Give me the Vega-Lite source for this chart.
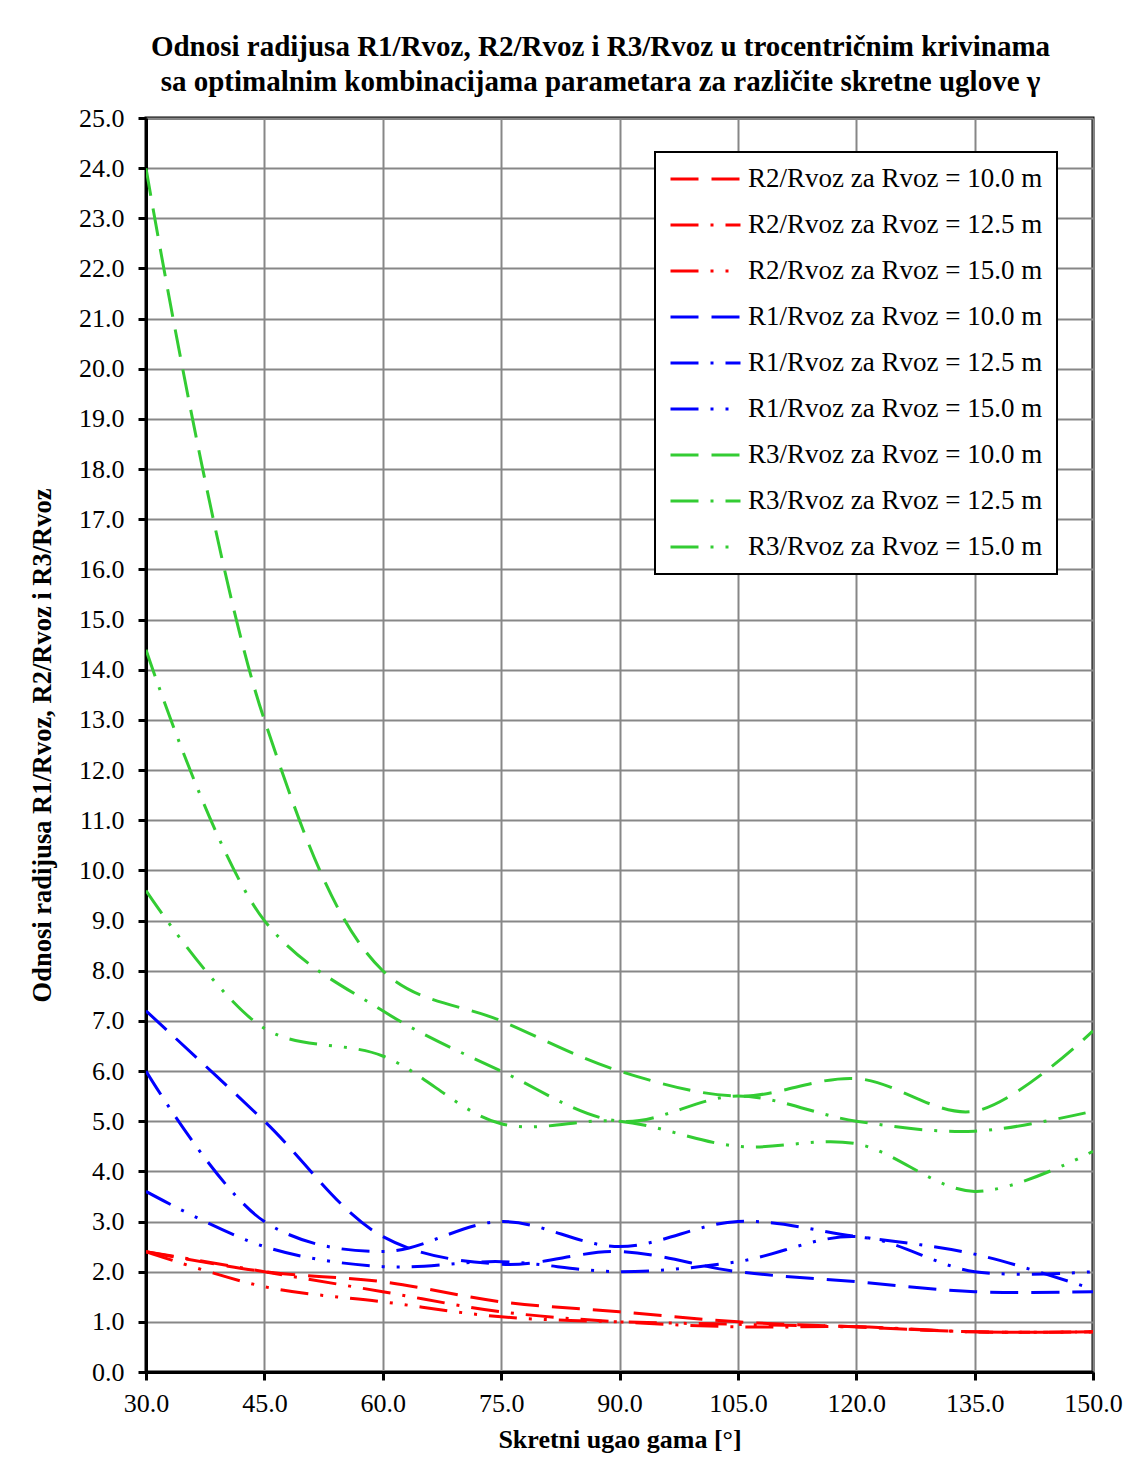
{
  "$schema": "https://vega.github.io/schema/vega-lite/v6.json",
  "width": 947,
  "height": 1254,
  "autosize": "none",
  "padding": {"left": 146, "top": 118, "right": 34, "bottom": 92},
  "background": "white",
  "config": {
    "font": "Liberation Serif",
    "view": {"stroke": "black", "strokeWidth": 3},
    "legend": {"strokeWidth": 2}
  },
  "title": {
    "text": ["Odnosi radijusa R1/Rvoz, R2/Rvoz i R3/Rvoz u trocentričnim krivinama", "sa optimalnim kombinacijama parametara za različite skretne uglove γ"],
    "font": "Liberation Serif",
    "fontSize": 29,
    "fontWeight": "bold",
    "lineHeight": 35,
    "color": "black",
    "anchor": "middle",
    "frame": "group",
    "dx": -19,
    "offset": 8
  },
  "data": {
    "values": [
      {"s": "R2/Rvoz za Rvoz = 10.0 m", "g": 30, "v": 2.4},
      {"s": "R2/Rvoz za Rvoz = 10.0 m", "g": 45, "v": 2.0},
      {"s": "R2/Rvoz za Rvoz = 10.0 m", "g": 60, "v": 1.8},
      {"s": "R2/Rvoz za Rvoz = 10.0 m", "g": 75, "v": 1.4},
      {"s": "R2/Rvoz za Rvoz = 10.0 m", "g": 90, "v": 1.2},
      {"s": "R2/Rvoz za Rvoz = 10.0 m", "g": 105, "v": 1.0},
      {"s": "R2/Rvoz za Rvoz = 10.0 m", "g": 120, "v": 0.9},
      {"s": "R2/Rvoz za Rvoz = 10.0 m", "g": 135, "v": 0.8},
      {"s": "R2/Rvoz za Rvoz = 10.0 m", "g": 150, "v": 0.8},
      {"s": "R2/Rvoz za Rvoz = 12.5 m", "g": 30, "v": 2.4},
      {"s": "R2/Rvoz za Rvoz = 12.5 m", "g": 45, "v": 2.0},
      {"s": "R2/Rvoz za Rvoz = 12.5 m", "g": 60, "v": 1.6},
      {"s": "R2/Rvoz za Rvoz = 12.5 m", "g": 75, "v": 1.2},
      {"s": "R2/Rvoz za Rvoz = 12.5 m", "g": 90, "v": 1.0},
      {"s": "R2/Rvoz za Rvoz = 12.5 m", "g": 105, "v": 0.9},
      {"s": "R2/Rvoz za Rvoz = 12.5 m", "g": 120, "v": 0.9},
      {"s": "R2/Rvoz za Rvoz = 12.5 m", "g": 135, "v": 0.8},
      {"s": "R2/Rvoz za Rvoz = 12.5 m", "g": 150, "v": 0.8},
      {"s": "R2/Rvoz za Rvoz = 15.0 m", "g": 30, "v": 2.4},
      {"s": "R2/Rvoz za Rvoz = 15.0 m", "g": 45, "v": 1.7},
      {"s": "R2/Rvoz za Rvoz = 15.0 m", "g": 60, "v": 1.4},
      {"s": "R2/Rvoz za Rvoz = 15.0 m", "g": 75, "v": 1.1},
      {"s": "R2/Rvoz za Rvoz = 15.0 m", "g": 90, "v": 1.0},
      {"s": "R2/Rvoz za Rvoz = 15.0 m", "g": 105, "v": 0.95},
      {"s": "R2/Rvoz za Rvoz = 15.0 m", "g": 120, "v": 0.9},
      {"s": "R2/Rvoz za Rvoz = 15.0 m", "g": 135, "v": 0.8},
      {"s": "R2/Rvoz za Rvoz = 15.0 m", "g": 150, "v": 0.8},
      {"s": "R1/Rvoz za Rvoz = 10.0 m", "g": 30, "v": 7.2},
      {"s": "R1/Rvoz za Rvoz = 10.0 m", "g": 45, "v": 5.0},
      {"s": "R1/Rvoz za Rvoz = 10.0 m", "g": 60, "v": 2.7},
      {"s": "R1/Rvoz za Rvoz = 10.0 m", "g": 75, "v": 2.15},
      {"s": "R1/Rvoz za Rvoz = 10.0 m", "g": 90, "v": 2.4},
      {"s": "R1/Rvoz za Rvoz = 10.0 m", "g": 105, "v": 2.0},
      {"s": "R1/Rvoz za Rvoz = 10.0 m", "g": 120, "v": 1.8},
      {"s": "R1/Rvoz za Rvoz = 10.0 m", "g": 135, "v": 1.6},
      {"s": "R1/Rvoz za Rvoz = 10.0 m", "g": 150, "v": 1.6},
      {"s": "R1/Rvoz za Rvoz = 12.5 m", "g": 30, "v": 6.0},
      {"s": "R1/Rvoz za Rvoz = 12.5 m", "g": 45, "v": 3.0},
      {"s": "R1/Rvoz za Rvoz = 12.5 m", "g": 60, "v": 2.4},
      {"s": "R1/Rvoz za Rvoz = 12.5 m", "g": 75, "v": 3.0},
      {"s": "R1/Rvoz za Rvoz = 12.5 m", "g": 90, "v": 2.5},
      {"s": "R1/Rvoz za Rvoz = 12.5 m", "g": 105, "v": 3.0},
      {"s": "R1/Rvoz za Rvoz = 12.5 m", "g": 120, "v": 2.7},
      {"s": "R1/Rvoz za Rvoz = 12.5 m", "g": 135, "v": 2.35},
      {"s": "R1/Rvoz za Rvoz = 12.5 m", "g": 150, "v": 1.65},
      {"s": "R1/Rvoz za Rvoz = 15.0 m", "g": 30, "v": 3.6},
      {"s": "R1/Rvoz za Rvoz = 15.0 m", "g": 45, "v": 2.5},
      {"s": "R1/Rvoz za Rvoz = 15.0 m", "g": 60, "v": 2.1},
      {"s": "R1/Rvoz za Rvoz = 15.0 m", "g": 75, "v": 2.2},
      {"s": "R1/Rvoz za Rvoz = 15.0 m", "g": 90, "v": 2.0},
      {"s": "R1/Rvoz za Rvoz = 15.0 m", "g": 105, "v": 2.2},
      {"s": "R1/Rvoz za Rvoz = 15.0 m", "g": 120, "v": 2.7},
      {"s": "R1/Rvoz za Rvoz = 15.0 m", "g": 135, "v": 2.0},
      {"s": "R1/Rvoz za Rvoz = 15.0 m", "g": 150, "v": 2.0},
      {"s": "R3/Rvoz za Rvoz = 10.0 m", "g": 30, "v": 24.0},
      {"s": "R3/Rvoz za Rvoz = 10.0 m", "g": 45, "v": 13.0},
      {"s": "R3/Rvoz za Rvoz = 10.0 m", "g": 60, "v": 8.0},
      {"s": "R3/Rvoz za Rvoz = 10.0 m", "g": 75, "v": 7.0},
      {"s": "R3/Rvoz za Rvoz = 10.0 m", "g": 90, "v": 6.0},
      {"s": "R3/Rvoz za Rvoz = 10.0 m", "g": 105, "v": 5.5},
      {"s": "R3/Rvoz za Rvoz = 10.0 m", "g": 120, "v": 5.85},
      {"s": "R3/Rvoz za Rvoz = 10.0 m", "g": 135, "v": 5.2},
      {"s": "R3/Rvoz za Rvoz = 10.0 m", "g": 150, "v": 6.8},
      {"s": "R3/Rvoz za Rvoz = 12.5 m", "g": 30, "v": 14.4},
      {"s": "R3/Rvoz za Rvoz = 12.5 m", "g": 45, "v": 9.0},
      {"s": "R3/Rvoz za Rvoz = 12.5 m", "g": 60, "v": 7.2},
      {"s": "R3/Rvoz za Rvoz = 12.5 m", "g": 75, "v": 6.0},
      {"s": "R3/Rvoz za Rvoz = 12.5 m", "g": 90, "v": 5.0},
      {"s": "R3/Rvoz za Rvoz = 12.5 m", "g": 105, "v": 5.5},
      {"s": "R3/Rvoz za Rvoz = 12.5 m", "g": 120, "v": 5.0},
      {"s": "R3/Rvoz za Rvoz = 12.5 m", "g": 135, "v": 4.8},
      {"s": "R3/Rvoz za Rvoz = 12.5 m", "g": 150, "v": 5.2},
      {"s": "R3/Rvoz za Rvoz = 15.0 m", "g": 30, "v": 9.6},
      {"s": "R3/Rvoz za Rvoz = 15.0 m", "g": 45, "v": 6.85},
      {"s": "R3/Rvoz za Rvoz = 15.0 m", "g": 60, "v": 6.3},
      {"s": "R3/Rvoz za Rvoz = 15.0 m", "g": 75, "v": 4.95},
      {"s": "R3/Rvoz za Rvoz = 15.0 m", "g": 90, "v": 5.0},
      {"s": "R3/Rvoz za Rvoz = 15.0 m", "g": 105, "v": 4.5},
      {"s": "R3/Rvoz za Rvoz = 15.0 m", "g": 120, "v": 4.55},
      {"s": "R3/Rvoz za Rvoz = 15.0 m", "g": 135, "v": 3.6},
      {"s": "R3/Rvoz za Rvoz = 15.0 m", "g": 150, "v": 4.4}
    ]
  },
  "mark": {"type": "line", "interpolate": "catmull-rom", "strokeWidth": 3, "clip": true},
  "encoding": {
    "x": {
      "field": "g",
      "type": "quantitative",
      "scale": {"domain": [30, 150], "nice": false, "zero": false},
      "axis": {
        "title": "Skretni ugao gama [°]",
        "values": [30, 45, 60, 75, 90, 105, 120, 135, 150],
        "format": ".1f",
        "labelFont": "Liberation Serif",
        "labelFontSize": 26,
        "labelColor": "black",
        "labelPadding": 10,
        "labelFlush": false,
        "labelOverlap": false,
        "titleFont": "Liberation Serif",
        "titleFontSize": 26,
        "titleFontWeight": "bold",
        "titleColor": "black",
        "titlePadding": 10,
        "domainColor": "black",
        "domainWidth": 3,
        "tickColor": "black",
        "tickWidth": 3,
        "tickSize": 8,
        "grid": true,
        "gridColor": "#878787",
        "gridWidth": 2
      }
    },
    "y": {
      "field": "v",
      "type": "quantitative",
      "scale": {"domain": [0, 25], "nice": false},
      "axis": {
        "title": "Odnosi radijusa R1/Rvoz, R2/Rvoz i R3/Rvoz",
        "values": [0, 1, 2, 3, 4, 5, 6, 7, 8, 9, 10, 11, 12, 13, 14, 15, 16, 17, 18, 19, 20, 21, 22, 23, 24, 25],
        "format": ".1f",
        "labelFont": "Liberation Serif",
        "labelFontSize": 26,
        "labelColor": "black",
        "labelPadding": 14,
        "labelFlush": false,
        "labelOverlap": false,
        "titleFont": "Liberation Serif",
        "titleFontSize": 26.5,
        "titleFontWeight": "bold",
        "titleColor": "black",
        "titlePadding": 22,
        "domainColor": "black",
        "domainWidth": 3,
        "tickColor": "black",
        "tickWidth": 3,
        "tickSize": 8,
        "grid": true,
        "gridColor": "#878787",
        "gridWidth": 2
      }
    },
    "color": {
      "field": "s",
      "type": "nominal",
      "title": null,
      "scale": {
        "domain": ["R2/Rvoz za Rvoz = 10.0 m", "R2/Rvoz za Rvoz = 12.5 m", "R2/Rvoz za Rvoz = 15.0 m", "R1/Rvoz za Rvoz = 10.0 m", "R1/Rvoz za Rvoz = 12.5 m", "R1/Rvoz za Rvoz = 15.0 m", "R3/Rvoz za Rvoz = 10.0 m", "R3/Rvoz za Rvoz = 12.5 m", "R3/Rvoz za Rvoz = 15.0 m"],
        "range": ["#ff0000", "#ff0000", "#ff0000", "#0000ff", "#0000ff", "#0000ff", "#33cc33", "#33cc33", "#33cc33"]
      },
      "legend": {
        "orient": "none",
        "legendX": 509,
        "legendY": 34,
        "fillColor": "white",
        "strokeColor": "black",
        "padding": 14,
        "rowPadding": 19,
        "clipHeight": 26,
        "symbolType": "stroke",
        "symbolSize": 4900,
        "symbolStrokeWidth": 3,
        "labelFont": "Liberation Serif",
        "labelFontSize": 27,
        "labelColor": "black",
        "labelOffset": 6,
        "labelLimit": 400
      }
    },
    "strokeDash": {
      "field": "s",
      "type": "nominal",
      "title": null,
      "scale": {
        "domain": ["R2/Rvoz za Rvoz = 10.0 m", "R2/Rvoz za Rvoz = 12.5 m", "R2/Rvoz za Rvoz = 15.0 m", "R1/Rvoz za Rvoz = 10.0 m", "R1/Rvoz za Rvoz = 12.5 m", "R1/Rvoz za Rvoz = 15.0 m", "R3/Rvoz za Rvoz = 10.0 m", "R3/Rvoz za Rvoz = 12.5 m", "R3/Rvoz za Rvoz = 15.0 m"],
        "range": [[28, 13], [28, 12, 3, 12], [28, 12, 3, 12, 3, 12], [28, 13], [28, 12, 3, 12], [28, 12, 3, 12, 3, 12], [28, 13], [28, 12, 3, 12], [28, 12, 3, 12, 3, 12]]
      },
      "legend": {
        "orient": "none",
        "legendX": 509,
        "legendY": 34,
        "fillColor": "white",
        "strokeColor": "black",
        "padding": 14,
        "rowPadding": 19,
        "clipHeight": 26,
        "symbolType": "stroke",
        "symbolSize": 4900,
        "symbolStrokeWidth": 3,
        "labelFont": "Liberation Serif",
        "labelFontSize": 27,
        "labelColor": "black",
        "labelOffset": 6,
        "labelLimit": 400
      }
    }
  }
}
